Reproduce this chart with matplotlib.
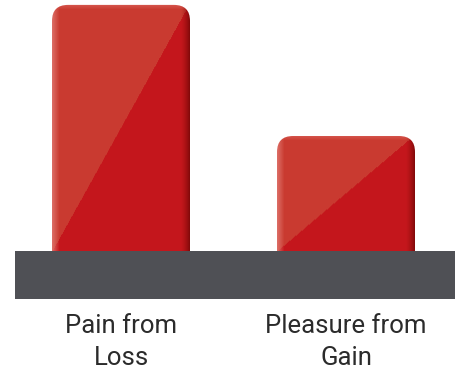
import matplotlib
matplotlib.use('Agg')
import matplotlib.pyplot as plt
import numpy as np
from matplotlib.patches import FancyBboxPatch

# data
labels = ['Pain from\nLoss', 'Pleasure from\nGain']
values = [2.14, 1.0]

LIGHT = np.array([0.79, 0.23, 0.19])
DARK = np.array([0.77, 0.09, 0.11])
EDGE = np.array([0.88, 0.47, 0.44])
SHADE = np.array([0.48, 0.03, 0.03])
BAND = '#4f5055'

px_x = 1 / 225.0   # data units per pixel, x
px_y = 1 / 115.0   # data units per pixel, y

fig = plt.figure(figsize=(4.55, 3.72), dpi=100)
ax = fig.add_axes([0, 0, 1, 1])

bars = ax.bar(range(len(values)), values, width=138 * px_x)


def bar_image(h, w_px, h_px, top_px):
    rows, cols = int(h_px), int(w_px)
    u = np.linspace(0, 1, cols)[None, :]
    yy = np.arange(rows)[:, None]           # pixel from top of image
    v = yy / top_px                          # 0 at top, 1 at baseline
    img = np.where((u + v < 1)[..., None], LIGHT, DARK) * np.ones((rows, cols, 3))
    # left edge highlight
    a = np.clip(1 - u * w_px / 7, 0, 1)[..., None] * 0.8
    img = img * (1 - a) + EDGE * a
    # right edge shadow
    b = np.clip(1 - (1 - u) * w_px / 9, 0, 1)[..., None] ** 1.5 * 0.85
    img = img * (1 - b) + SHADE * b
    # top highlight
    c = np.clip(1 - yy / 5.0, 0, 1)[..., None] * 0.35
    img = img * (1 - c) + np.array([0.93, 0.55, 0.52]) * c
    return img


for rect in bars:
    x, w, h = rect.get_x(), rect.get_width(), rect.get_height()
    rect.remove()
    below = 0.3
    patch = FancyBboxPatch((x, -below), w, h + below,
                           boxstyle='round,pad=0,rounding_size=%f' % (16 * px_x),
                           mutation_aspect=px_y / px_x,
                           fc='none', ec='none', zorder=2)
    ax.add_patch(patch)
    h_px = (h + below) / px_y
    img = bar_image(h, w / px_x, h_px, h / px_y)
    im = ax.imshow(img, extent=(x, x + w, -below, h), aspect='auto',
                   interpolation='bilinear', zorder=2)
    im.set_clip_path(patch)

# base band
ax.axhspan(-48 * px_y, 0, xmin=15 / 455, xmax=1, color=BAND, zorder=3, lw=0)

for i, lab in enumerate(labels):
    ax.text(i, -91 * px_y, lab, ha='center', va='center', fontsize=18.5,
            family='Roboto', color='#2b2b2b', linespacing=1.38)

ax.set_xlim(-121 * px_x, (455 - 121) * px_x)
ax.set_ylim(-121 * px_y, (372 - 121) * px_y)
ax.axis('off')

fig.savefig('out.png', dpi=100)
